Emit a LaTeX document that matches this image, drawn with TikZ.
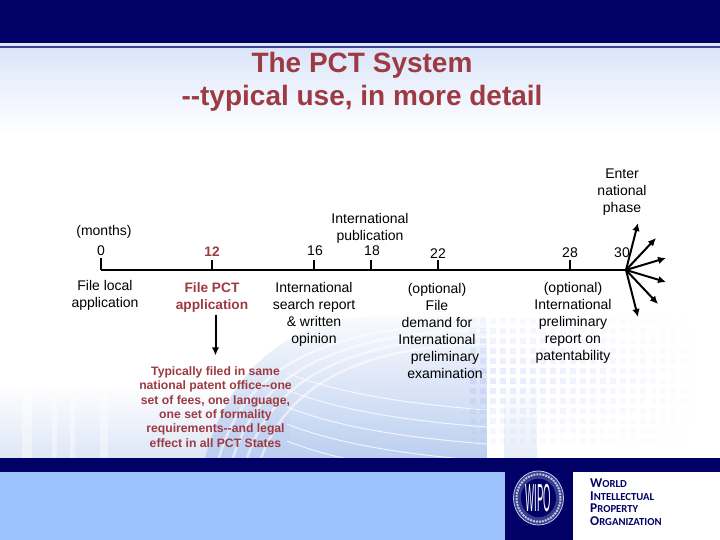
\documentclass[tikz,border=0pt]{standalone}
\usepackage{fontspec}
\setmainfont{Liberation Sans}
\newfontfamily\logofont{Carlito}
\usetikzlibrary{arrows.meta, positioning, fadings}
\definecolor{navy}{HTML}{000066}
\definecolor{softblue}{HTML}{9DC3FC}
\definecolor{paleblue}{HTML}{DCE6FA}
\definecolor{titlered}{HTML}{9E3A42}
\definecolor{swirl}{HTML}{BCCFF0}
\newcommand{\capword}[2]{{\fontsize{13.4}{13}\selectfont #1}{\fontsize{10.7}{13}\selectfont #2}}

\begin{document}
\begin{tikzpicture}[
    x=1pt, y=-1pt,
    every node/.style={inner sep=0pt},
    plain/.style={font=\fontsize{14}{17}\selectfont, align=center, text=black},
    key/.style={font=\fontsize{13.7}{17}\selectfont\bfseries, align=center, text=titlered},
    note/.style={font=\fontsize{12.2}{14.4}\selectfont\bfseries, align=center, text=titlered},
    logoline/.style={anchor=west, text=navy, font=\logofont\bfseries},
    tick/.style={line width=2.2pt, black},
    arrow/.style={line width=2pt, black, -{Latex[length=8pt, width=7.5pt]}}
]
\useasboundingbox (0,0) rectangle (720,540);

% Background
\fill[white] (0,0) rectangle (720,540);
\fill[navy] (0,0) rectangle (720,43);
\fill[paleblue] (0,43) rectangle (720,46);
\fill[navy!75] (0,46) rectangle (720,48);
\fill[paleblue, path fading=south] (0,48) rectangle (720,132);

% Swirl
\fill[swirl, opacity=0.5, path fading=north] (0,385) rectangle (290,458);
\foreach \stripe/\wd in {22/10, 52/5, 70/5, 100/8}
    \fill[white, opacity=0.4] (\stripe,385) rectangle ++(\wd,73);
\begin{scope}
    \clip (205,458) .. controls (225,385) and (275,318) .. (380,316) -- (487,316) -- (487,458) -- cycle;
    \fill[swirl, path fading=north] (200,305) rectangle (487,458);
    \foreach \k in {1,...,4}
        \draw[white, line width=2.4pt, opacity=0.55] (205+14*\k,458) .. controls (225+14*\k,385+5*\k) and (275+14*\k,318+7*\k) .. (487,316+7*\k);
    \foreach \k in {0,...,4}
        \draw[white, line width=1pt, opacity=0.75] (287,373+17*\k) .. controls (340,394+17*\k) and (410,404+17*\k) .. (487,410+17*\k);
\end{scope}
\fill[swirl, opacity=0.35, path fading=north] (504,380) rectangle (537,458);
\foreach \dotx in {470,480,...,690}
    \foreach \doty in {318,328,...,438} {
        \pgfmathsetmacro{\dotop}{max(0,0.24*(1-abs(\dotx-480)/215)*(1-abs(\doty-375)/80))}
        \fill[swirl!80!blue, opacity=\dotop] (\dotx,\doty) rectangle ++(6,6);
    }

% Footer
\fill[navy] (0,458) rectangle (720,472);
\fill[softblue] (0,472) rectangle (505,540);
\fill[navy] (505,472) rectangle (573,540);

% Title
\node[font=\fontsize{28}{33}\selectfont\bfseries, align=center, text=titlered] (title) at (362,81.5) {The PCT System\\-{}-typical use, in more detail};

% Timeline
\coordinate (t0) at (101,270);
\coordinate (t12) at (212,270);
\coordinate (t16) at (314,270);
\coordinate (t18) at (371,270);
\coordinate (t22) at (438,270);
\coordinate (t28) at (570,270);
\coordinate (fan) at (626,270);

\draw[tick] (t0) -- (fan);
\draw[tick] (t0) -- ++(0,-12);
\foreach \tickpt in {t12,t16,t18,t22,t28}
    \draw[tick] (\tickpt) -- ++(0,-10);

% Nodes (above)
\node[plain] (monthsl) at (104,231.5) {(months)};
\node[plain] (n0) at (101,250.5) {0};
\node[key] (n12) at (212,251.5) {12};
\node[plain] (n16) at (315,250.5) {16};
\node[plain] (n18) at (372,250.5) {18};
\node[plain] (n22) at (438,253.5) {22};
\node[plain] (n28) at (570,252.5) {28};
\node[plain] (n30) at (622,252.5) {30};
\node[plain] (pub) at (370,228.5) {International\\publication};
\node[plain] (enter) at (622,192.5) {Enter\\national\\phase};

% Nodes (below)
\node[plain] (local) at (105,295) {File local\\application};
\node[key] (filepct) at (212,297.5) {File PCT\\application};
\node[plain] (search) at (314,314) {International\\search report\\\& written\\opinion};
\node[plain] (demand) at (437,330.5) {(optional)\\File\\demand for\\International\\\hspace*{16pt}preliminary\\\hspace*{16pt}examination};
\node[plain] (report) at (573,323) {(optional)\\International\\preliminary\\report on\\patentability};
\node[note] (typical) at (215.5,407) {Typically filed in same\\national patent office-{}-one\\set of fees, one language,\\one set of formality\\requirements-{}-and legal\\effect in all PCT States};

% Arrows
\draw[arrow] (filepct.south -| typical.north) ++(0,2) -- ([yshift=11pt]typical.north);
\foreach \ex/\ey [count=\i] in {638/223, 656/238, 666/258, 666/282, 658/304, 638/317} {
    \coordinate (e\i) at (\ex,\ey);
    \draw[arrow] (fan) -- (e\i);
}

% Logo
\fill[white] (573,472) rectangle (720,540);
\node[circle, fill=navy!70!swirl, draw=swirl, line width=0.8pt, minimum width=50pt, yscale=1.08] (seal) at (538.5,498) {};
\node[circle, draw=white, densely dotted, line width=2pt, minimum width=44pt, yscale=1.08, opacity=0.7] (ring) at (seal) {};
\node[circle, fill=navy, minimum width=35pt, yscale=1.1] (core) at (seal) {};
\node[text=white, font=\fontsize{17}{17}\selectfont, xscale=0.56, yscale=2.3] (wipo) at (seal) {WIPO};
\node[logoline] (w1) at (590,483.5) {\capword{W}{ORLD}};
\node[logoline] (w2) at (590,496) {\capword{I}{NTELLECTUAL}};
\node[logoline] (w3) at (590,508) {\capword{P}{ROPERTY}};
\node[logoline] (w4) at (590,521) {\capword{O}{RGANIZATION}};

\end{tikzpicture}
\end{document}
